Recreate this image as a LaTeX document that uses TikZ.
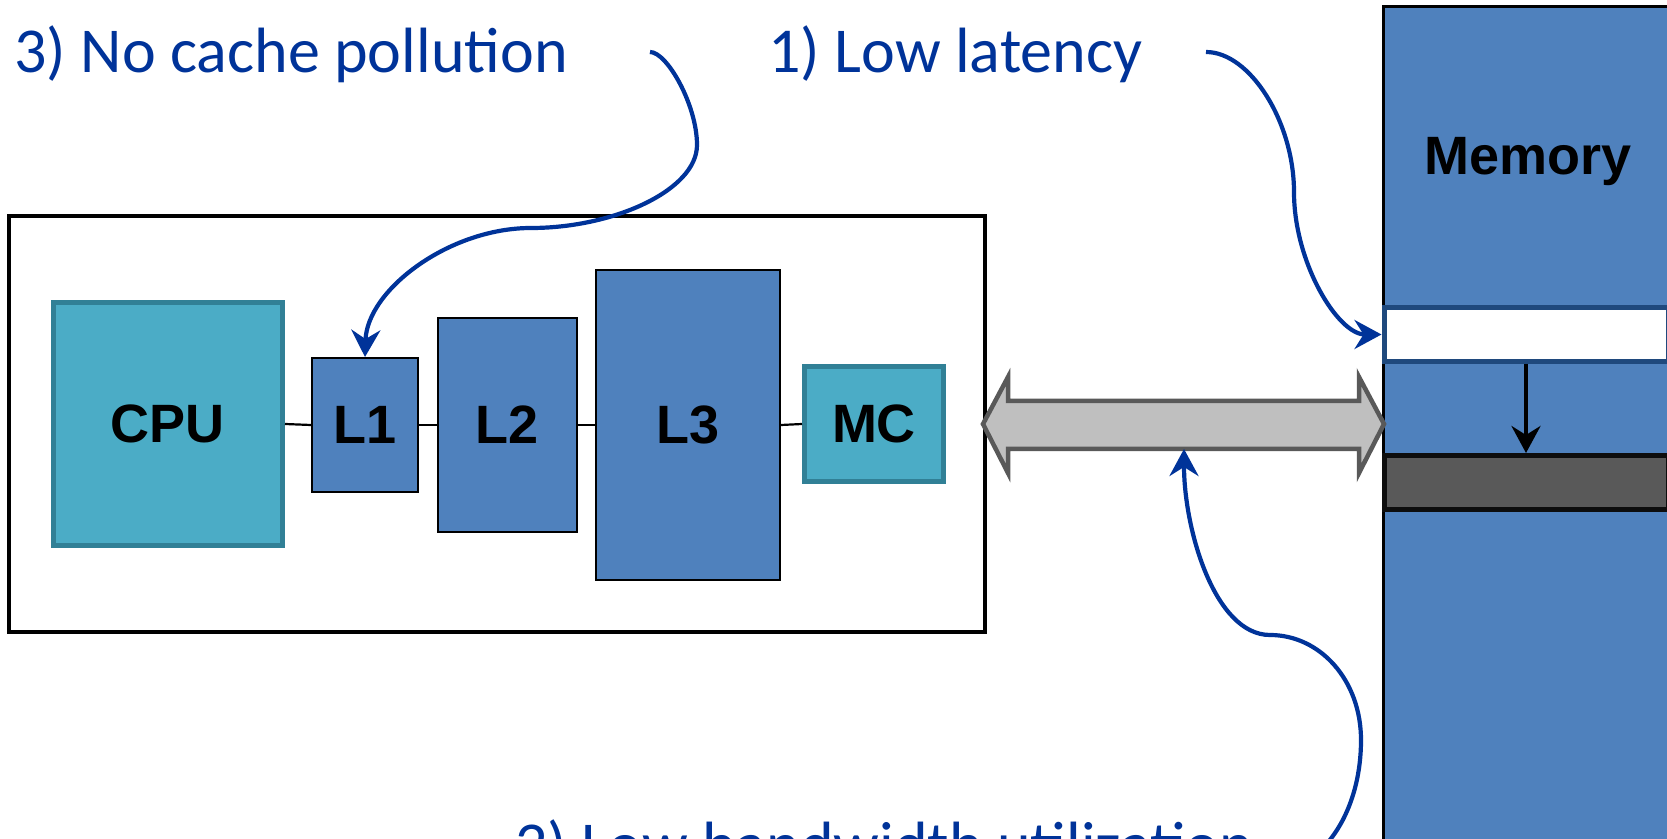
\documentclass[tikz,border=0pt]{standalone}
\usepackage{fontspec}
\setmainfont{Liberation Sans}
\newfontfamily\calibri{Carlito}
\usetikzlibrary{arrows.meta}
\definecolor{cpuTeal}{RGB}{75,172,198}
\definecolor{tealEdge}{RGB}{49,128,150}
\definecolor{memBlue}{RGB}{79,129,189}
\definecolor{rowEdge}{RGB}{31,73,125}
\definecolor{annBlue}{RGB}{0,51,153}
\definecolor{busFill}{RGB}{191,191,191}
\definecolor{busEdge}{RGB}{89,89,89}
\definecolor{rowDark}{RGB}{89,89,89}
\begin{document}
\begin{tikzpicture}[x=0.5pt,y=-0.5pt,
  lbl/.style={font=\bfseries\fontsize{27}{30}\selectfont, text=black},
  cachebox/.style={lbl, draw=black, line width=1pt, fill=memBlue, inner sep=0pt},
  tealbox/.style={lbl, draw=tealEdge, line width=2.5pt, fill=cpuTeal, inner sep=0pt},
  chipbox/.style={draw=black, line width=2pt, fill=white, inner sep=0pt},
  rowbox/.style={inner sep=0pt, minimum width=142pt, minimum height=27pt, line width=2.5pt},
  link/.style={draw=black, line width=1.1pt},
  ann/.style={font=\calibri\fontsize{32}{36}\selectfont, text=annBlue, inner sep=0pt, anchor=base west},
  annline/.style={draw=annBlue, line width=2.1pt, -{Stealth[length=13.5pt,width=14.5pt,inset=4.5pt]}},
  busstyle/.style={draw=busEdge, fill=busFill, line width=2.25pt, line join=miter},
  downarrow/.style={draw=black, line width=2pt, -{Stealth[length=13.5pt,width=14.5pt,inset=4.5pt]}}
]
\useasboundingbox (0,0) rectangle (1667,839);
\clip (0,0) rectangle (1667,839);

% chip
\node[chipbox, minimum width=488pt, minimum height=208pt] (chip) at (497,424) {};
\node[tealbox, minimum width=114.5pt, minimum height=121.5pt] (cpu) at (168,424) {CPU};
\node[cachebox, minimum width=53pt, minimum height=67pt] (l1) at (365,425) {L1};
\node[cachebox, minimum width=69.5pt, minimum height=107pt] (l2) at (507,425) {L2};
\node[cachebox, minimum width=92pt, minimum height=155pt] (l3) at (688,425) {L3};
\node[tealbox, minimum width=69.5pt, minimum height=57.5pt] (mc) at (874,424) {MC};
\draw[link] (cpu.east) -- (l1.west);
\draw[link] (l1.east) -- (l2.west);
\draw[link] (l2.east) -- (l3.west);
\draw[link] (l3.east) -- (mc.west);

% memory
\node[draw=black, line width=1.5pt, fill=memBlue, inner sep=0pt,
      minimum width=158.5pt, minimum height=446.5pt] (mem) at (1541.5,453.5) {};
\node[lbl, anchor=base, inner sep=0pt] (memlbl) at (1528,175) {Memory};
\node[rowbox, draw=rowEdge, fill=white] (wrow) at (1526,334.5) {};
\node[rowbox, draw=black!95, fill=rowDark] (drow) at (1526,482.5) {};
\draw[downarrow] (wrow.south) -- (drow.north);

% bus
\draw[busstyle] (983,424) -- (1008,377) -- (1008,401) -- (1359,401) -- (1359,377)
  -- (1384,424) -- (1359,473) -- (1359,449) -- (1008,449) -- (1008,473) -- cycle;
\coordinate (busB) at (1184,449);

% annotations
\node[ann] (t3) at (14,73) {3) No cache pollution};
\node[ann] (t1) at (768,73) {1) Low latency};
\node[ann] (t2) at (515,866) {2) Low bandwidth utilization};

\coordinate (s3) at (650,52);
\coordinate (s1) at (1206,52);
\coordinate (s2) at (1270,872);

\draw[annline] (s3) .. controls (667,52) and (697,105) .. (697,145)
  .. controls (697,190) and (614,228) .. (531,228)
  .. controls (449,228) and (367,290) .. (l1.north);
\draw[annline] (s1) .. controls (1250,52) and (1294,122) .. (1294,192)
  .. controls (1294,263) and (1338,334.5) .. (wrow.west);
\draw[annline] (s2) .. controls (1320,872) and (1361,815) .. (1361,740)
  .. controls (1361,680) and (1320,635) .. (1270,635)
  .. controls (1215,635) and (1184,530) .. (busB);
\end{tikzpicture}
\end{document}
